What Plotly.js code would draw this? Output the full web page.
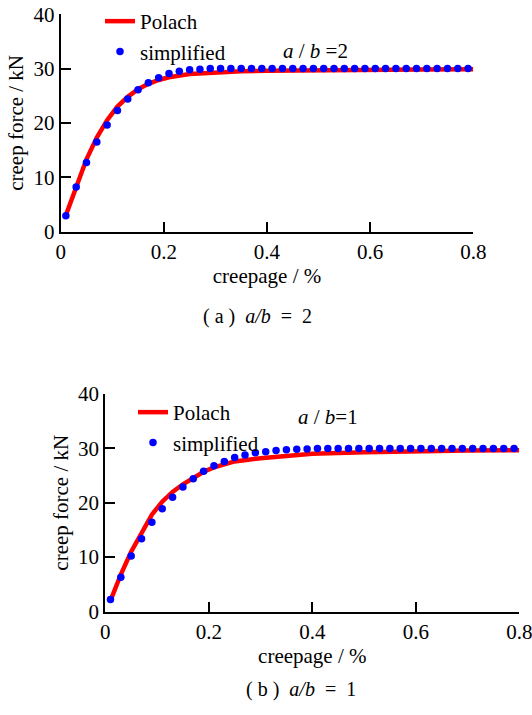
<!DOCTYPE html>
<html>
<head>
<meta charset="utf-8">
<script src="https://cdn.plot.ly/plotly-3.0.1.min.js"></script>
</head>
<body style="margin:0">
<div id="fig"></div>
<script>
// ---- data ----
var creepageDots = [0.01,0.03,0.05,0.07,0.09,0.11,0.13,0.15,0.17,0.19,
                    0.21,0.23,0.25,0.27,0.29,0.31,0.33,0.35,0.37,0.39,
                    0.41,0.43,0.45,0.47,0.49,0.51,0.53,0.55,0.57,0.59,
                    0.61,0.63,0.65,0.67,0.69,0.71,0.73,0.75,0.77,0.79];
var simplifiedA = [2.9,8.2,12.7,16.5,19.6,22.3,24.4,26.1,27.4,28.3,
                   29.1,29.5,29.8,29.9,30.0,30.0,30.0,30.0,30.0,30.0,
                   30.0,30.0,30.0,30.0,30.0,30.0,30.0,30.0,30.0,30.0,
                   30.0,30.0,30.0,30.0,30.0,30.0,30.0,30.0,30.0,30.0];
var simplifiedB = [2.2,6.3,10.2,13.4,16.4,18.9,21.0,22.9,24.4,25.8,
                   26.8,27.6,28.3,28.8,29.2,29.4,29.6,29.75,29.85,29.9,
                   30.0,30.0,30.0,30.0,30.0,30.0,30.0,30.0,30.0,30.0,
                   30.0,30.0,30.0,30.0,30.0,30.0,30.0,30.0,30.0,30.0];
var creepageLine = [0.01,0.03,0.05,0.07,0.09,0.11,0.13,0.15,0.17,0.19,0.21,0.25,0.30,0.35,0.40,0.50,0.60,0.70,0.80];
var polachA = [3.0,8.4,13.3,17.3,20.5,23.0,24.8,26.2,27.2,27.9,28.4,29.0,29.35,29.5,29.6,29.75,29.8,29.85,29.9];
var polachB = [2.0,6.8,11.0,14.6,17.8,20.2,22.0,23.4,24.6,25.7,26.5,27.6,28.2,28.7,29.0,29.3,29.5,29.6,29.65];
var xTicks = [0,0.2,0.4,0.6,0.8];
var xTickText = ['0','0.2','0.4','0.6','0.8'];
var yTicks = [0,10,20,30,40];
var seriesNames = ['Polach','simplified'];
var xTitle = 'creepage / %';
var yTitle = 'creep force / kN';

var SERIF = 'Liberation Serif';
var red = '#ff0000', blue = '#0000ff';

var traces = [
  {x: creepageLine, y: polachA, mode:'lines', name: seriesNames[0], line:{color:red,width:4.5}, xaxis:'x', yaxis:'y', legend:'legend'},
  {x: creepageDots, y: simplifiedA, mode:'markers', name: seriesNames[1], marker:{color:blue,size:7.5}, xaxis:'x', yaxis:'y', legend:'legend'},
  {x: creepageLine, y: polachB, mode:'lines', name: seriesNames[0], line:{color:red,width:4.5}, xaxis:'x2', yaxis:'y2', legend:'legend2'},
  {x: creepageDots, y: simplifiedB, mode:'markers', name: seriesNames[1], marker:{color:blue,size:7.5}, xaxis:'x2', yaxis:'y2', legend:'legend2'}
];

function fnt(s){ return {family:SERIF, size:s, color:'#000'}; }
function xa(domain, anchor){
  return {domain: domain, anchor: anchor, range:[0,0.8001], tickvals: xTicks, ticktext: xTickText,
    showline:true, linecolor:'#000', linewidth:2, ticks:'inside', ticklen:10, tickwidth:2, tickcolor:'#000',
    showgrid:false, zeroline:false, automargin:false, ticklabeloverflow:'allow',
    tickfont:fnt(21), title:{text:xTitle, font:fnt(21), standoff:0}};
}
function ya(domain, anchor){
  return {domain: domain, anchor: anchor, range:[0,40], tickvals: yTicks,
    showline:true, linecolor:'#000', linewidth:2, ticks:'inside', ticklen:10, tickwidth:2, tickcolor:'#000',
    showgrid:false, zeroline:false, automargin:false, ticklabeloverflow:'allow',
    tickfont:fnt(21), title:{text:yTitle, font:fnt(21), standoff:4}};
}

var W = 532, H = 715;
var layout = {
  width: W, height: H,
  margin:{l:0,r:0,t:0,b:0},
  font:fnt(21),
  xaxis: xa([60.7/W, 473.3/W], 'y'),
  yaxis: ya([1-231.5/H, 1-14.3/H], 'x'),
  xaxis2: xa([105.3/W, 519.3/W], 'y2'),
  yaxis2: ya([1-611.5/H, 1-394/H], 'x2'),
  legend:{x:(142-40-2)/W, y:1-1/H, xanchor:'left', yanchor:'top', bgcolor:'rgba(0,0,0,0)',
    font:fnt(21), tracegroupgap:0},
  legend2:{x:(175-40-2)/W, y:1-392/H, xanchor:'left', yanchor:'top', bgcolor:'rgba(0,0,0,0)',
    font:fnt(21), tracegroupgap:0},
  annotations:[
    {xref:'paper', yref:'paper', x:315/W, y:1-37/H, showarrow:false,
     text:'<i>a</i> / <i>b</i> =2', font:fnt(21)},
    {xref:'paper', yref:'paper', x:360/W, y:1-416.7/H, showarrow:false,
     text:'<i>a</i> / <i>b</i>=1', font:fnt(21)},
    {xref:'paper', yref:'paper', x:257.3/W, y:1-316.7/H, showarrow:false,
     text:'(\u00A0a\u00A0)\u00A0\u00A0<i>a/b</i>\u00A0\u00A0=\u00A0\u00A02', font:fnt(20)},
    {xref:'paper', yref:'paper', x:300.8/W, y:1-703.3/H, showarrow:false,
     text:'(\u00A0b\u00A0)\u00A0\u00A0<i>a/b</i>\u00A0\u00A0=\u00A0\u00A01', font:fnt(20)}
  ],
  showlegend:true
};

Plotly.newPlot('fig', traces, layout, {displayModeBar:false});
</script>
</body>
</html>
